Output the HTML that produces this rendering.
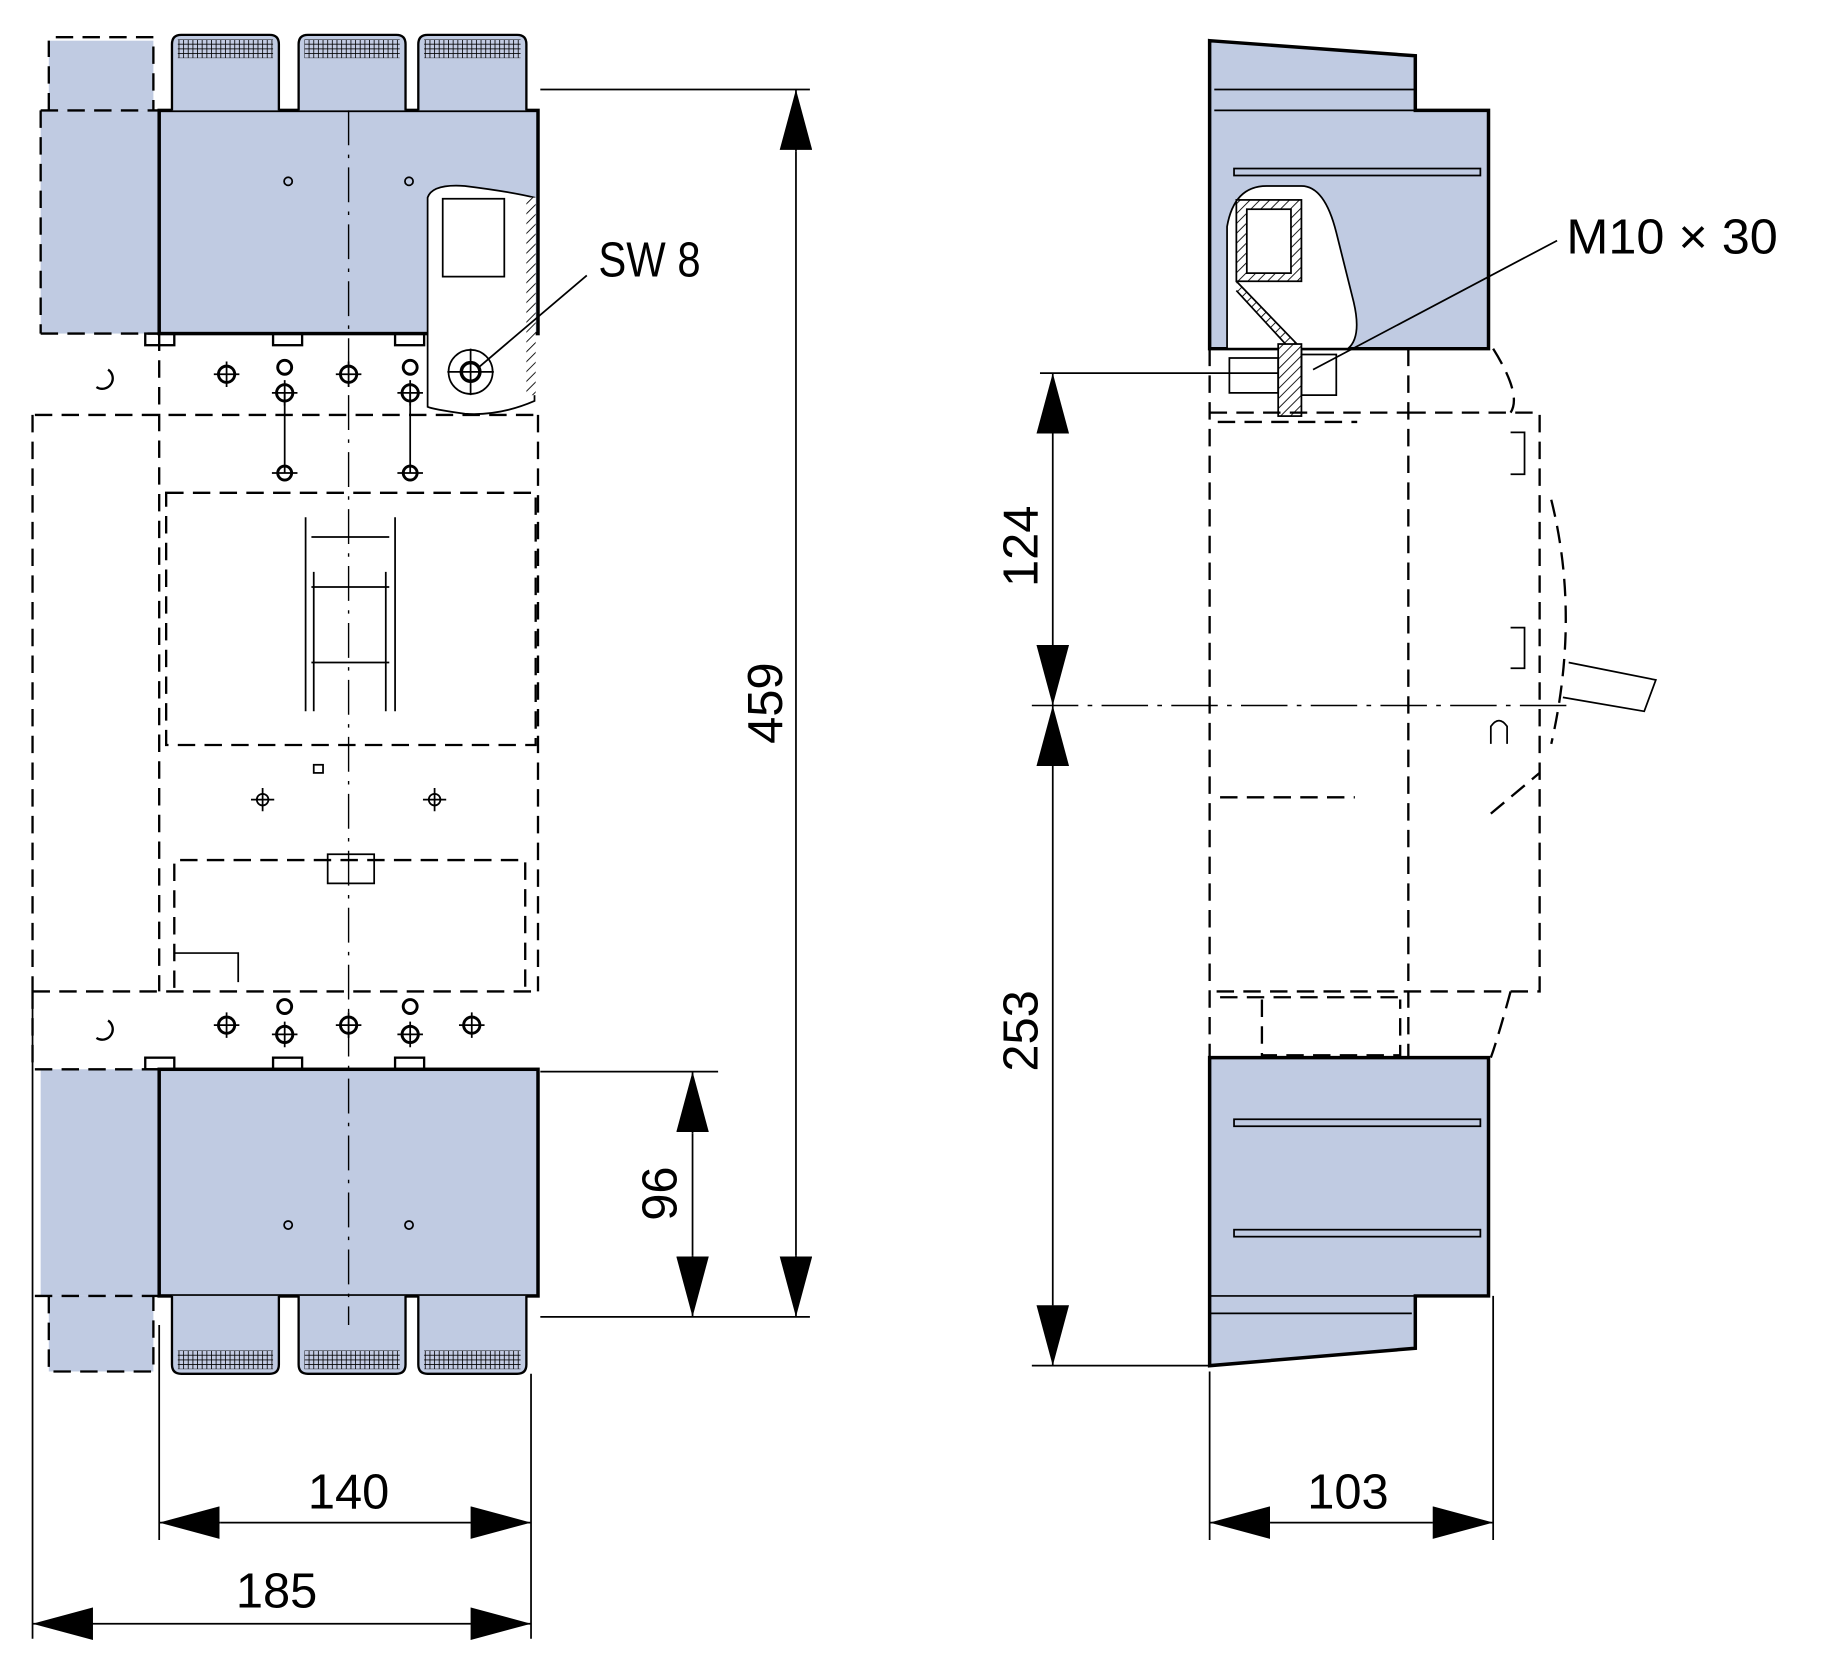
<!DOCTYPE html>
<html><head><meta charset="utf-8"><style>html,body{margin:0;padding:0;background:#fff}svg{display:block}</style></head>
<body>
<svg width="1822" height="1676" viewBox="0 0 1568 1442" preserveAspectRatio="none" xmlns="http://www.w3.org/2000/svg" font-family="Liberation Sans, sans-serif">
<defs>
<marker id="a" viewBox="0 0 52 28" refX="52" refY="14" markerWidth="52" markerHeight="28" markerUnits="userSpaceOnUse" orient="auto"><path d="M0,0L52,14L0,28Z" fill="#000"/></marker>
<pattern id="g" width="4" height="4" patternUnits="userSpaceOnUse"><rect width="4" height="4" fill="#c3cbe2"/><path d="M0,2H4M2,0V4" stroke="#000" stroke-width="0.7"/></pattern>
<pattern id="h" width="6" height="6" patternUnits="userSpaceOnUse" patternTransform="rotate(45)"><rect width="6" height="6" fill="#fff"/><path d="M0,0V6" stroke="#000" stroke-width="1.5"/></pattern>
</defs>
<g fill="none" stroke="#000" stroke-width="1.5">
<!-- LEFT VIEW -->
<rect x="35" y="95" width="102" height="192" fill="#c0cbe2" stroke="none"/>
<rect x="42" y="35" width="90" height="60" fill="#c0cbe2" stroke="none"/>
<rect x="35" y="920" width="102" height="195" fill="#c0cbe2" stroke="none"/>
<rect x="42" y="1115" width="90" height="65" fill="#c0cbe2" stroke="none"/>
<g stroke-dasharray="15,8" stroke-width="2">
<path d="M48,32H132V95M42,95V35M35,95H137M35,95V287M35,287H463M30,357H463M28,357V853M137,287V853M463,357V853M28,853H463M28,853V920H137M30,1115H137M42,1115V1180H132V1115"/>
<rect x="143" y="424" width="318" height="217"/>
<path d="M150,850V740H452V850"/>
</g>
<!-- top box -->
<rect x="137" y="95" width="326" height="192" fill="#c0cbe2" stroke-width="3"/>
<rect x="137" y="920" width="326" height="195" fill="#c0cbe2" stroke-width="3"/>
<!-- terminals -->
<g fill="#c0cbe2" stroke-width="2">
<path d="M148,95V38Q148,30 156,30H232Q240,30 240,38V95"/><path d="M257,95V38Q257,30 265,30H341Q349,30 349,38V95"/><path d="M360,95V38Q360,30 368,30H445Q453,30 453,38V95"/>
<path d="M148,1115V1174Q148,1182 156,1182H232Q240,1182 240,1174V1115"/><path d="M257,1115V1174Q257,1182 265,1182H341Q349,1182 349,1174V1115"/><path d="M360,1115V1174Q360,1182 368,1182H445Q453,1182 453,1174V1115"/>
</g>
<g fill="url(#g)" stroke="none">
<rect x="153" y="34" width="82" height="16"/><rect x="262" y="34" width="82" height="16"/><rect x="365" y="34" width="83" height="16"/>
<rect x="153" y="1162" width="82" height="16"/><rect x="262" y="1162" width="82" height="16"/><rect x="365" y="1162" width="83" height="16"/>
</g>
<g stroke-width="2">
<rect x="125" y="287" width="25" height="10"/><rect x="235" y="287" width="25" height="10"/><rect x="340" y="287" width="25" height="10"/>
<rect x="125" y="910" width="25" height="10"/><rect x="235" y="910" width="25" height="10"/><rect x="340" y="910" width="25" height="10"/>
</g>
<!-- SW8 lug -->
<path d="M368,350V170Q372,158 400,160Q440,165 460,170V345Q430,358 400,356Q372,352 368,350Z" fill="#fff"/>
<rect x="381" y="171" width="53" height="67"/>
<rect x="453" y="170" width="8" height="170" fill="url(#h)" stroke="none"/>
<circle cx="405" cy="320" r="19"/><circle cx="405" cy="320" r="8" stroke-width="3"/>
<path d="M385,320H425M405,300V340"/>
<!-- screws -->
<g stroke-width="2.5">
<circle cx="195" cy="322" r="7"/><circle cx="245" cy="316" r="6"/><circle cx="245" cy="338" r="7"/><circle cx="300" cy="322" r="7"/><circle cx="353" cy="316" r="6"/><circle cx="353" cy="338" r="7"/>
<circle cx="245" cy="407" r="6"/><circle cx="353" cy="407" r="6"/>
<circle cx="195" cy="882" r="7"/><circle cx="245" cy="866" r="6"/><circle cx="245" cy="890" r="7"/><circle cx="300" cy="882" r="7"/><circle cx="353" cy="866" r="6"/><circle cx="353" cy="890" r="7"/><circle cx="406" cy="882" r="7"/>
</g>
<path d="M184,322H206M195,311V333M234,338H256M245,327V349M289,322H311M300,311V333M342,338H364M353,327V349M234,407H256M342,407H364M184,882H206M195,871V893M234,890H256M245,879V901M289,882H311M300,871V893M342,890H364M353,879V901M395,882H417M406,871V893M216,688H236M226,678V698M364,688H384M374,678V698"/>
<path d="M245,338V407M353,338V407" />
<circle cx="226" cy="688" r="5"/><circle cx="374" cy="688" r="5"/>
<circle cx="248" cy="156" r="3.5"/><circle cx="352" cy="156" r="3.5"/><circle cx="248" cy="1054" r="3.5"/><circle cx="352" cy="1054" r="3.5"/>
<path d="M93,318A9,9 0 1 1 83,333M93,878A9,9 0 1 1 83,893" stroke-width="2"/>
<!-- handle -->
<path d="M263,445V612M340,445V612M268,462H335M268,505H335M268,570H335M270,492V612M332,492V612"/>
<rect x="270" y="658" width="8" height="7"/>
<path d="M282,735H322V760H282Z M150,820H205V845"/>
<path d="M300,95V1140" stroke-dasharray="30,8,3,8" stroke-width="1.2"/>
<!-- dims left -->
<path d="M465,77H697M465,1133H697M465,922H618M137,1140V1325M457,1182V1410M28,860V1410"/>
<path d="M685,130V77" marker-end="url(#a)"/><path d="M685,1080V1133" marker-end="url(#a)"/><path d="M685,130V1080"/>
<path d="M596,975V922" marker-end="url(#a)"/><path d="M596,1080V1133" marker-end="url(#a)"/><path d="M596,975V1080"/>
<path d="M190,1310H137" marker-end="url(#a)"/><path d="M405,1310H457" marker-end="url(#a)"/><path d="M190,1310H405"/>
<path d="M80,1397H28" marker-end="url(#a)"/><path d="M405,1397H457" marker-end="url(#a)"/><path d="M80,1397H405"/>
<path d="M505,237L412,316"/>

<!-- RIGHT VIEW -->
<path d="M1041,35L1218,48V95H1281V300H1041Z" fill="#c0cbe2" stroke-width="3"/>
<path d="M1045,77H1218M1045,95H1228"/>
<rect x="1062" y="145" width="212" height="6"/>
<path d="M1056,300V195Q1062,160 1090,160H1120Q1140,160 1150,200L1165,260Q1172,290 1160,300Z" fill="#fff"/>
<rect x="1064" y="172" width="56" height="70" fill="url(#h)"/><rect x="1073" y="180" width="38" height="55" fill="#fff"/>
<path d="M1064,242L1120,300V330H1110V300L1064,250" fill="url(#h)"/>
<rect x="1100" y="296" width="20" height="62" fill="url(#h)"/>
<path d="M1058,308H1100V338H1058Z M1120,305H1150V340H1120Z"/>
<path d="M1041,910H1281V1115H1218V1160L1041,1175Z" fill="#c0cbe2" stroke-width="3"/>
<path d="M1041,1115H1218M1041,1130H1215"/>
<rect x="1062" y="963" width="212" height="6"/><rect x="1062" y="1058" width="212" height="6"/>
<g stroke-dasharray="15,8" stroke-width="2">
<path d="M1041,300V910M1212,300V910M1212,355H1325V853H1041M1041,355H1212M1048,363H1168M1050,686H1166M1086,860V908H1205V860M1285,300Q1310,340 1300,355M1300,853Q1290,890 1283,910M1335,430Q1360,530 1335,640"/>
<path d="M1050,858H1205"/>
<path d="M1283,700L1325,665"/>
</g>
<path d="M1300,372H1312V408H1300M1300,540H1312V575H1300M1283,640V625Q1290,615 1297,625V640M1350,570L1425,585L1415,612L1345,600"/>
<path d="M888,607H1350" stroke-dasharray="40,8,4,8" stroke-width="1.2"/>
<!-- dims right -->
<path d="M895,321H1100M888,1175H1041M1041,1180V1325M1285,1115V1325"/>
<path d="M906,373V321" marker-end="url(#a)"/><path d="M906,555V607" marker-end="url(#a)"/><path d="M906,373V555"/>
<path d="M906,659V607" marker-end="url(#a)"/><path d="M906,1123V1175" marker-end="url(#a)"/><path d="M906,659V1123"/>
<path d="M1093,1310H1041" marker-end="url(#a)"/><path d="M1233,1310H1285" marker-end="url(#a)"/><path d="M1093,1310H1233"/>
<path d="M1340,207L1130,318"/>
</g>
<g font-size="42" fill="#000">
<text x="515" y="238" textLength="88" lengthAdjust="spacingAndGlyphs">SW 8</text>
<text x="1348" y="218" textLength="182" lengthAdjust="spacingAndGlyphs">M10 × 30</text>
<text x="300" y="1298" text-anchor="middle">140</text>
<text x="238" y="1383" text-anchor="middle">185</text>
<text x="1160" y="1298" text-anchor="middle">103</text>
<text transform="translate(673,605) rotate(-90)" text-anchor="middle">459</text>
<text transform="translate(582,1027) rotate(-90)" text-anchor="middle">96</text>
<text transform="translate(893,470) rotate(-90)" text-anchor="middle">124</text>
<text transform="translate(893,887) rotate(-90)" text-anchor="middle">253</text>
</g>
</svg>
</body></html>
